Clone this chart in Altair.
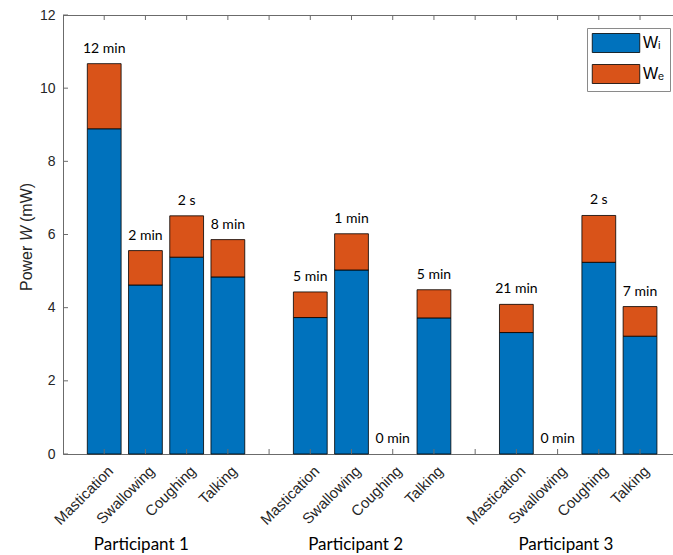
import altair as alt
import pandas as pd

participants = ["Participant 1", "Participant 2", "Participant 3"]
participant_label_pos = [1.9, 7.1, 12.2]
activities = ["Mastication", "Swallowing", "Coughing", "Talking"]
w_i = [8.89, 4.62, 5.38, 4.84, 3.73, 5.03, 0.0, 3.72, 3.32, 0.0, 5.24, 3.22]
w_e = [1.78, 0.94, 1.13, 1.02, 0.70, 0.99, 0.0, 0.77, 0.77, 0.0, 1.28, 0.81]
durations = ["12 min", "2 min", "2 s", "8 min", "5 min", "1 min", "0 min", "5 min",
             "21 min", "0 min", "2 s", "7 min"]
y_ticks = [0, 2, 4, 6, 8, 10, 12]
comp_names = ["Wᵢ", "Wₑ"]
colors = ["#0072BD", "#D95319"]

W, H = 610, 439
XMAX = 14.8

seg_rows, lab_rows = [], []
slot_names = {}
for g, p in enumerate(participants):
    for a, act in enumerate(activities):
        k = g * 4 + a
        pos = g * 5 + a + 1
        slot_names[pos] = act
        tot = w_i[k] + w_e[k]
        if w_i[k] > 0:
            seg_rows.append(dict(pos=pos, comp=comp_names[0], y0=0.0, y1=w_i[k]))
        if w_e[k] > 0:
            seg_rows.append(dict(pos=pos, comp=comp_names[1], y0=w_i[k], y1=tot))
        lab_rows.append(dict(pos=pos, total=tot, dur=durations[k]))

all_slots = list(range(1, 15))
for s in all_slots:
    slot_names.setdefault(s, "")

segs = pd.DataFrame(seg_rows)
labs = pd.DataFrame(lab_rows)
parts = pd.DataFrame({"pos": participant_label_pos, "name": participants})
slots = pd.DataFrame({"pos": all_slots})
yt = pd.DataFrame({"v": y_ticks})

label_expr = "{" + ",".join(f"'{k}':'{v}'" for k, v in slot_names.items()) + "}[datum.value]"

xscale = alt.Scale(domain=[0, XMAX], nice=False, zero=False)
yscale = alt.Scale(domain=[0, 12], nice=False, zero=True)

axis_col = "#6b6b6b"
lab_col = "#262626"

bars = alt.Chart(segs).transform_calculate(
    xa="datum.pos - 0.41", xb="datum.pos + 0.41"
).mark_rect(stroke="black", strokeWidth=0.8).encode(
    x=alt.X("xa:Q", scale=xscale,
            axis=alt.Axis(values=all_slots, labelExpr=label_expr, labelAngle=315,
                          labelAlign="right", labelBaseline="middle", tickSize=0,
                          labelPadding=14, labelOffset=6, grid=False, title=None,
                          labelOverlap=False, labelFlush=False, labelBound=False,
                          labelFont="Liberation Sans", labelFontSize=15,
                          labelColor=lab_col, domainColor=axis_col)),
    x2="xb:Q",
    y=alt.Y("y0:Q", scale=yscale,
            axis=alt.Axis(values=y_ticks, tickSize=0, labelPadding=8, grid=False,
                          title=None, labelFont="Liberation Sans", labelFontSize=14,
                          labelColor=lab_col, domainColor=axis_col)),
    y2="y1:Q",
    color=alt.Color("comp:N", scale=alt.Scale(domain=comp_names, range=colors),
                    legend=alt.Legend(title=None, orient="none", legendX=524, legendY=13,
                                      strokeColor="#8a8a8a", fillColor="white",
                                      padding=5, symbolType="M-2.5,-1H2.5V1H-2.5Z",
                                      symbolSize=361, symbolOffset=14,
                                      symbolStrokeColor="black",
                                      symbolStrokeWidth=0.8, symbolOpacity=1,
                                      labelFont="Liberation Sans", labelFontSize=16,
                                      labelColor="black", labelOffset=17, rowPadding=7)),
)

text = alt.Chart(labs).mark_text(font="Lato", fontSize=14, color="black",
                                 baseline="bottom", dy=-8).encode(
    x=alt.X("pos:Q", scale=xscale), y=alt.Y("total:Q", scale=yscale), text="dur:N")

top_line = alt.Chart(slots).mark_rule(color=axis_col, strokeWidth=1).encode(
    x=alt.value(0), x2=alt.value(W), y=alt.value(0.5))

bot_ticks = alt.Chart(slots).mark_rule(color=axis_col, strokeWidth=1).encode(
    x=alt.X("pos:Q", scale=xscale), y=alt.value(H), y2=alt.value(H - 5))
top_ticks = alt.Chart(slots).mark_rule(color=axis_col, strokeWidth=1).encode(
    x=alt.X("pos:Q", scale=xscale), y=alt.value(0), y2=alt.value(5))
left_ticks = alt.Chart(yt).mark_rule(color=axis_col, strokeWidth=1).encode(
    y=alt.Y("v:Q", scale=yscale), x=alt.value(0), x2=alt.value(5))

part_text = alt.Chart(parts).mark_text(font="Lato", fontSize=17, color="black",
                                       baseline="middle").encode(
    x=alt.X("pos:Q", scale=xscale), y=alt.value(H + 91), text="name:N")

ytitle_df = pd.DataFrame({"t": ["Power "]})
yt1 = alt.Chart(ytitle_df).mark_text(font="Liberation Sans", fontSize=16, color=lab_col,
                                     angle=270, align="left", baseline="middle").encode(
    x=alt.value(-36), y=alt.value(276), text=alt.value("Power"))
yt2 = alt.Chart(ytitle_df).mark_text(font="Liberation Sans", fontSize=16, color=lab_col,
                                     fontStyle="italic", angle=270, align="left",
                                     baseline="middle").encode(
    x=alt.value(-36), y=alt.value(226), text=alt.value("W"))
yt3 = alt.Chart(ytitle_df).mark_text(font="Liberation Sans", fontSize=16, color=lab_col,
                                     angle=270, align="left", baseline="middle").encode(
    x=alt.value(-36), y=alt.value(207), text=alt.value("(mW)"))

chart = alt.layer(bars, text, top_line, bot_ticks, top_ticks, left_ticks, part_text,
                  yt1, yt2, yt3).properties(
    width=W, height=H,
    autosize=alt.AutoSizeParams(type="none"),
    padding={"left": 63, "top": 15, "right": 0, "bottom": 101},
).configure_view(stroke=None).configure(background="white")

chart.save("out.html", embed_options={"renderer": "svg", "actions": False})
